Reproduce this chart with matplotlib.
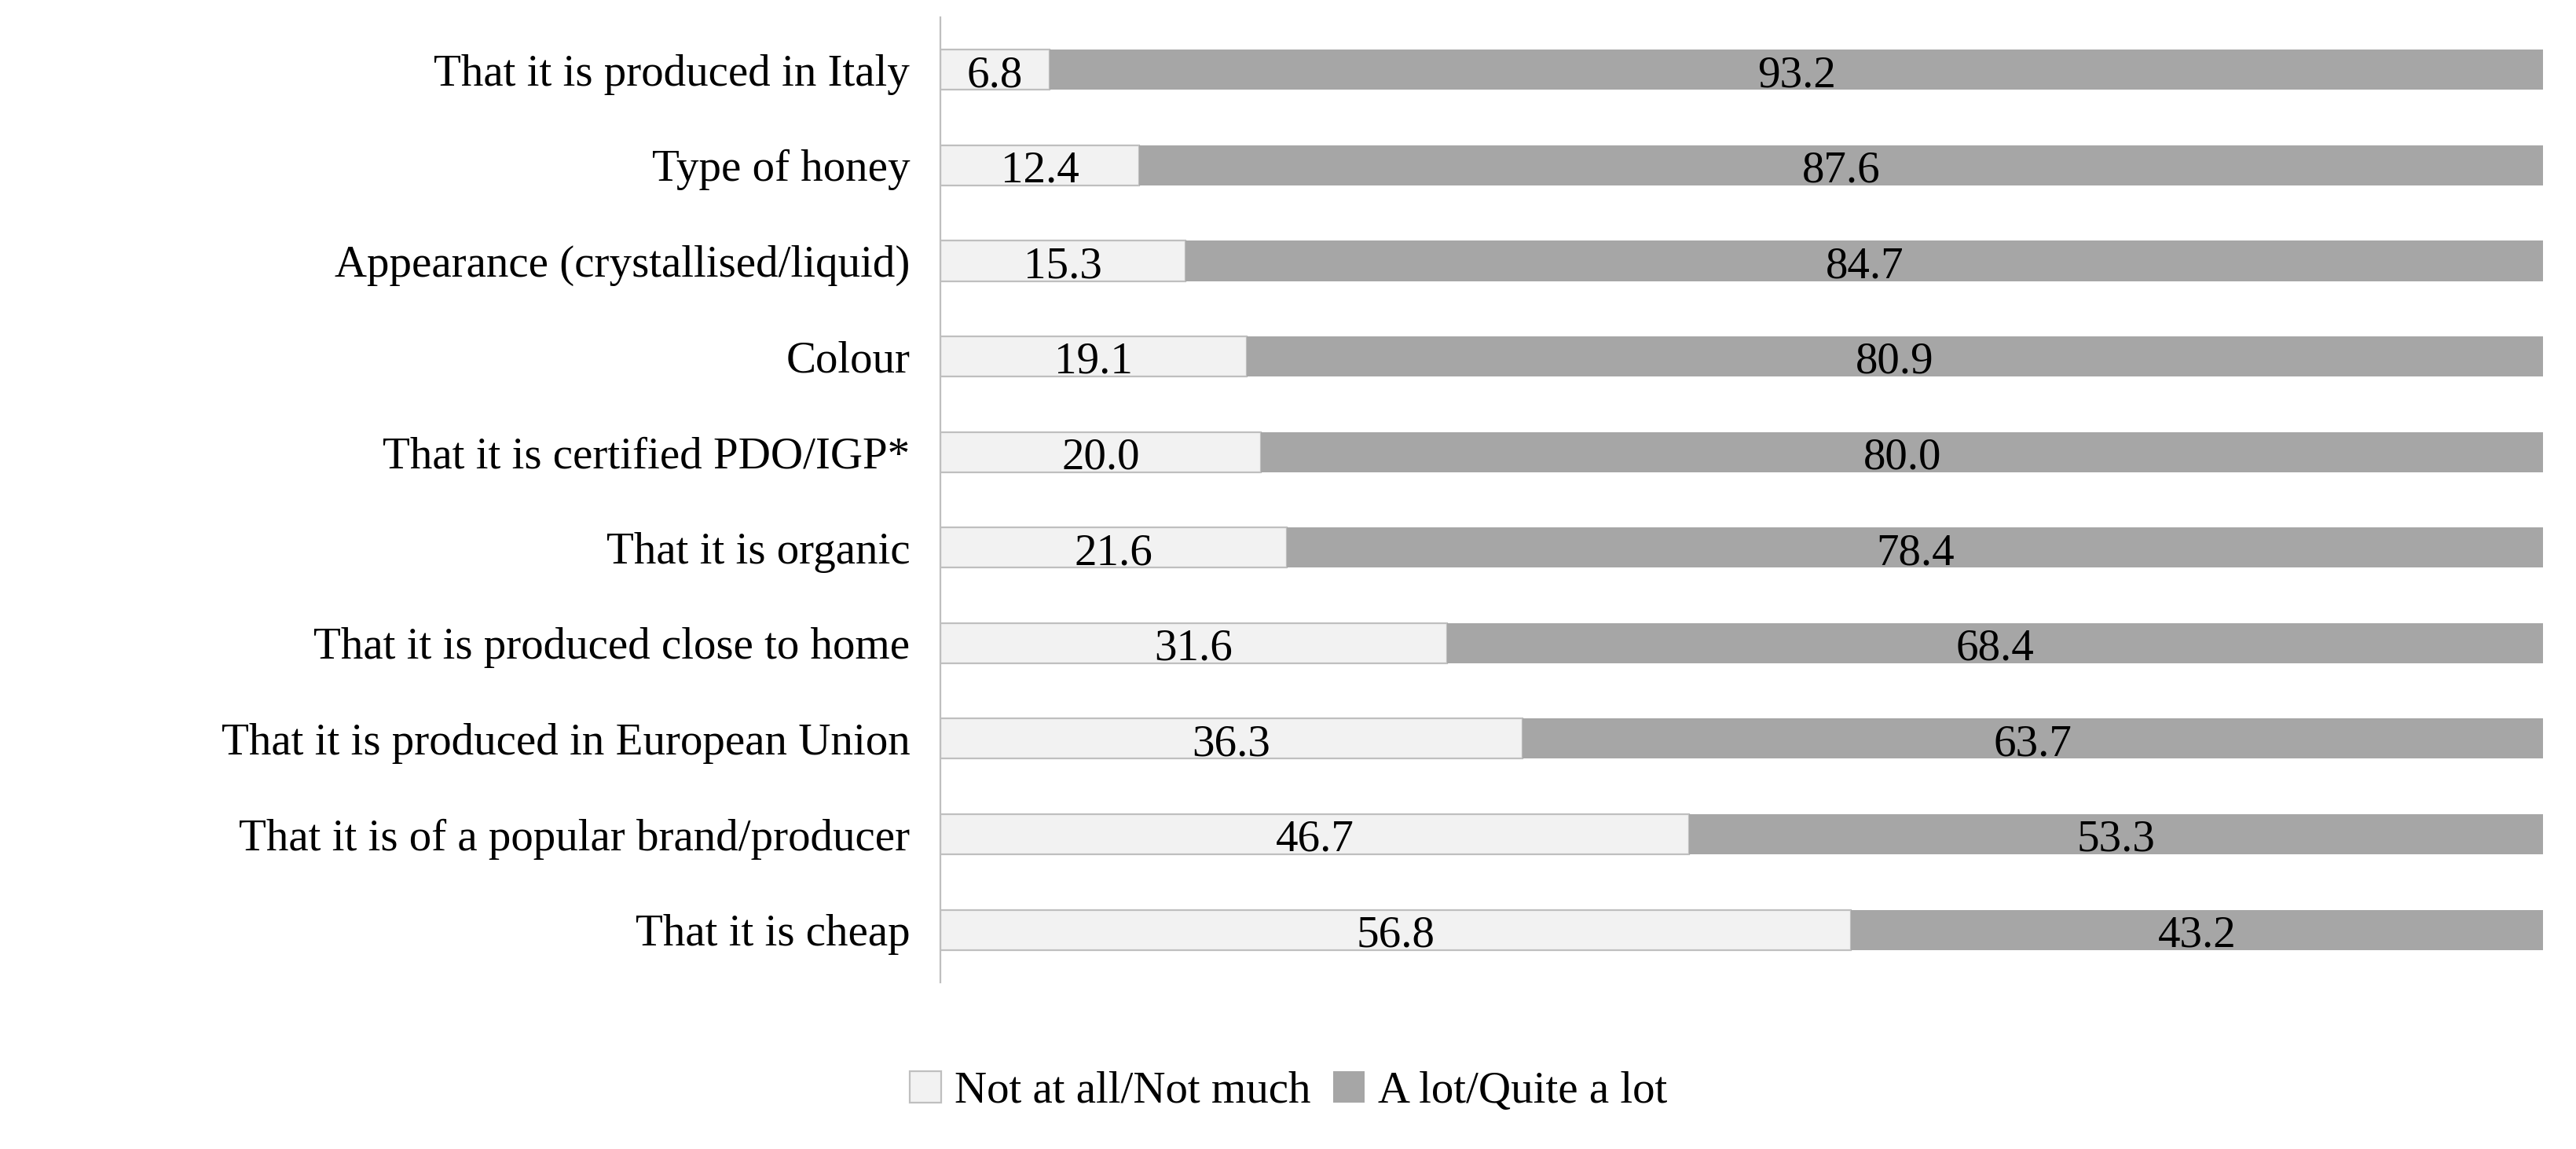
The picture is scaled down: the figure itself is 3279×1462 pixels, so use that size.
import matplotlib
matplotlib.use("Agg")
import matplotlib.pyplot as plt

categories = ["That it is produced in Italy", "Type of honey", "Appearance (crystallised/liquid)",
              "Colour", "That it is certified PDO/IGP*", "That it is organic",
              "That it is produced close to home", "That it is produced in European Union",
              "That it is of a popular brand/producer", "That it is cheap"]
not_much = [6.8, 12.4, 15.3, 19.1, 20.0, 21.6, 31.6, 36.3, 46.7, 56.8]
a_lot = [93.2, 87.6, 84.7, 80.9, 80.0, 78.4, 68.4, 63.7, 53.3, 43.2]

plt.rcParams['font.family'] = ['Liberation Serif', 'DejaVu Serif']
fig = plt.figure(figsize=(16.4, 7.31), dpi=200)
ax = fig.add_axes([0.365, 0.145, 0.622, 0.84])
y = list(range(len(categories)))
b1 = ax.barh(y, not_much, height=0.42, color='#f2f2f2', edgecolor='#bfbfbf', linewidth=0.8,
             label='Not at all/Not much')
b2 = ax.barh(y, a_lot, left=not_much, height=0.42, color='#a6a6a6', label='A lot/Quite a lot')
for i in y:
    ax.text(not_much[i] / 2, i + 0.06, f"{not_much[i]:.1f}", ha='center', va='center', fontsize=20.5)
    ax.text(not_much[i] + a_lot[i] / 2, i + 0.06, f"{a_lot[i]:.1f}", ha='center', va='center', fontsize=20.5)
ax.set_ylim(len(categories) - 0.45, -0.55)
ax.set_xlim(0, 100)
ax.set_yticks(y)
ax.set_yticklabels(categories, fontsize=20.5)
ax.tick_params(axis='y', length=0, pad=14)
ax.set_xticks([])
for s in ['top', 'right', 'bottom']:
    ax.spines[s].set_visible(False)
ax.spines['left'].set_color('#bfbfbf')
fig.legend(handles=[b1, b2], loc='center', bbox_to_anchor=(0.5, 0.05), ncol=2, frameon=False,
           fontsize=20.5, handlelength=0.7, handleheight=0.7, columnspacing=0.5, handletextpad=0.3)
fig.savefig("out.png")
